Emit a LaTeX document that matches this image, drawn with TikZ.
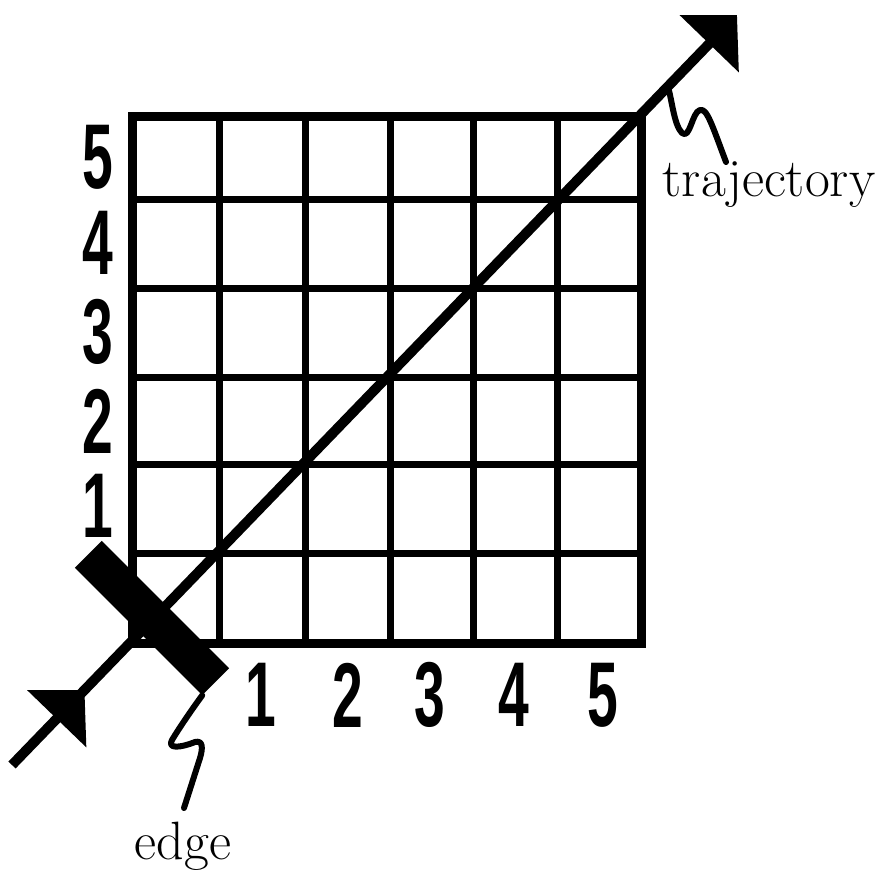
\documentclass[tikz,border=0pt]{standalone}
\usepackage{fontspec}
\newfontfamily\numfont{Liberation Sans}
\usetikzlibrary{arrows.meta,decorations.markings}
\tikzset{
  outerline/.style={line width=9pt, line cap=rect},
  innerline/.style={line width=7pt},
  trajline/.style={line width=10pt, -{Triangle[length=40pt,width=80pt]},
    decoration={markings, mark=at position 0.1 with {\arrow{Triangle[length=40pt,width=80pt]}}},
    postaction={decorate}},
  squig/.style={line width=6pt, line cap=round, line join=round},
  num/.style={font=\numfont\bfseries\fontsize{92}{92}\selectfont, inner sep=0pt, anchor=center},
  lbl/.style={font=\fontsize{54}{62}\selectfont, inner sep=0pt, anchor=base},
  edgebar/.style={rectangle, fill=black, minimum width=180pt, minimum height=38pt, inner sep=0pt, rotate=-45}
}
\newcommand{\cnum}[1]{\scalebox{0.6}[1]{#1}}
\begin{document}
\begin{tikzpicture}[x=1pt,y=-1pt]
\useasboundingbox (0,0) rectangle (881,876);
% grid
\foreach \x in {219,305,390,473,557} \draw[innerline] (\x,116) -- (\x,643);
\foreach \y in {199,288,377,464,553} \draw[innerline] (132,\y) -- (641,\y);
\draw[outerline] (132,116) rectangle (641,643);
% edge bar
\node[edgebar] (edge) at (152,618) {};
% trajectory
\coordinate (tstart) at (12,765);
\coordinate (tend) at (737,15);
\draw[trajline] (tstart) -- (tend);
% axis numbers
\foreach \n/\x in {1/261,2/348,3/430,4/514,5/603} \node[num] (b\n) at (\x,695) {\cnum{\n}};
\foreach \n/\y in {1/506,2/421,3/332,4/243,5/157} \node[num] (l\n) at (98,\y) {\cnum{\n}};
% labels
\node[lbl] (trajlbl) at (769,196) {trajectory};
\node[lbl] (edgelbl) at (183,859) {edge};
\coordinate (tq) at (668,87);
\coordinate (tqend) at (726,162);
\draw[squig] (tq) .. controls (672,100) and (674,125) .. (682,133) .. controls (690,140) and (692,112) .. (700,110) .. controls (707,108) and (712,125) .. (tqend);
\coordinate (eqend) at (184,808);
\draw[squig] (edge.south east) .. controls (190,712) and (178,730) .. (172,740) .. controls (167,749) and (180,748) .. (195,742) .. controls (203,740) and (203,748) .. (200,758) -- (eqend);
\end{tikzpicture}
\end{document}
